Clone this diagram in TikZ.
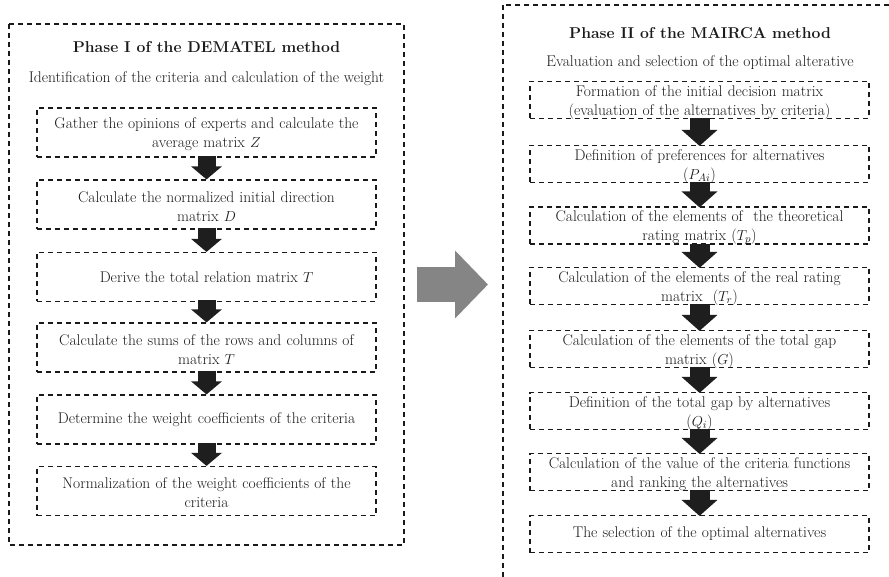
\documentclass[tikz,border=0pt]{standalone}
\usetikzlibrary{arrows.meta}
\definecolor{ink}{HTML}{1A1A1A}
\definecolor{arrowdark}{HTML}{1E1E1E}
\definecolor{arrowgray}{HTML}{858585}
\begin{document}
\begin{tikzpicture}[x=1pt,y=-1pt,
  frame/.style={draw=ink, line width=1.15pt, dash pattern=on 5pt off 4pt},
  stepbox/.style={frame, inner sep=0pt, minimum width=339pt},
  lbox/.style={stepbox, minimum height=49pt},
  rbox/.style={stepbox, minimum height=37pt},
  steptext/.style={inner sep=0pt, text width=336pt, align=center, text=ink,
    font=\fontsize{15.5}{19}\selectfont},
  title/.style={text=ink, font=\fontsize{15.7}{20}\selectfont\bfseries, inner sep=0pt},
  subtitle/.style={text=ink, font=\fontsize{15.5}{19}\selectfont, inner sep=0pt},
  larrow/.style={draw=arrowdark, line width=18pt, -{Triangle[width=30pt,length=13pt]}},
  rarrow/.style={draw=arrowdark, line width=20pt, -{Triangle[width=35pt,length=16pt]}},
  bigarrow/.style={draw=arrowgray, line width=35pt, -{Triangle[width=66pt,length=33pt]}}
]
\useasboundingbox (0,0) rectangle (889,577);
\clip (0,0) rectangle (889,577);
\fill[white] (0,0) rectangle (889,577);

% Phase I frame
\draw[frame] (9,24) rectangle (404,545);
\node[title] (t1) at (206.5,47) {Phase I of the DEMATEL method};
\node[subtitle] (s1) at (206.5,79) {Identification of the criteria and calculation of the weight};

\node[lbox] (L1) at (206.5,132.5) {};
\node[lbox] (L2) at (206.5,204.5) {};
\node[lbox] (L3) at (206.5,277) {};
\node[lbox] (L4) at (206.5,347.5) {};
\node[lbox] (L5) at (206.5,419.5) {};
\node[lbox] (L6) at (206.5,491) {};

\foreach \a/\b in {L1/L2,L2/L3,L3/L4,L4/L5,L5/L6}
  \draw[larrow] ([yshift=2pt]\a.south) -- (\b.north);

\node[steptext] (L1t) at ([yshift=-2pt]L1.center) {Gather the opinions of experts and calculate the\\ average matrix $Z$};
\node[steptext] (L2t) at ([yshift=-2pt]L2.center) {Calculate the normalized initial direction\\ matrix $D$};
\node[steptext] (L3t) at (L3.center) {Derive the total relation matrix $T$};
\node[steptext] (L4t) at ([yshift=-2pt]L4.center) {Calculate the sums of the rows and columns of\\ matrix $T$};
\node[steptext] (L5t) at (L5.center) {Determine the weight coefficients of the criteria};
\node[steptext] (L6t) at ([yshift=-2pt]L6.center) {Normalization of the weight coefficients of the\\ criteria};

% transition between the phases
\coordinate (g1) at (417,284.5);
\coordinate (g2) at (488,284.5);
\draw[bigarrow] (g1) -- (g2);

% Phase II frame (runs past the page edge)
\draw[frame] (503,5) rectangle (1000,700);
\node[title] (t2) at (700,33) {Phase II of the MAIRCA method};
\node[subtitle] (s2) at (700,63) {Evaluation and selection of the optimal alterative};

\node[rbox] (R1) at (699.5,100) {};
\node[rbox] (R2) at (699.5,164) {};
\node[rbox] (R3) at (699.5,225.5) {};
\node[rbox] (R4) at (699.5,286) {};
\node[rbox] (R5) at (699.5,349) {};
\node[rbox] (R6) at (699.5,411) {};
\node[rbox] (R7) at (699.5,472) {};
\node[rbox] (R8) at (699.5,534) {};

\foreach \a/\b in {R1/R2,R2/R3,R3/R4,R4/R5,R5/R6,R6/R7,R7/R8}
  \draw[rarrow] ([yshift=1pt]\a.south) -- ([yshift=-1pt]\b.north);

\node[steptext] (R1t) at ([yshift=-2pt]R1.center) {Formation of the initial decision matrix\\ (evaluation of the alternatives by criteria)};
\node[steptext] (R2t) at ([yshift=-2pt]R2.center) {Definition of preferences for alternatives\\ ($P_{Ai}$)};
\node[steptext] (R3t) at ([yshift=-2pt]R3.center) {Calculation of the elements of\ \ the theoretical\\ rating matrix ($T_p$)};
\node[steptext] (R4t) at ([yshift=-2pt]R4.center) {Calculation of the elements of the real rating\\ matrix\ \ ($T_r$)};
\node[steptext] (R5t) at ([yshift=-2pt]R5.center) {Calculation of the elements of the total gap\\ matrix ($G$)};
\node[steptext] (R6t) at ([yshift=-2pt]R6.center) {Definition of the total gap by alternatives\\ ($Q_i$)};
\node[steptext] (R7t) at ([yshift=-2pt]R7.center) {Calculation of the value of the criteria functions\\ and ranking the alternatives};
\node[steptext] (R8t) at (R8.center) {The selection of the optimal alternatives};
\end{tikzpicture}
\end{document}
